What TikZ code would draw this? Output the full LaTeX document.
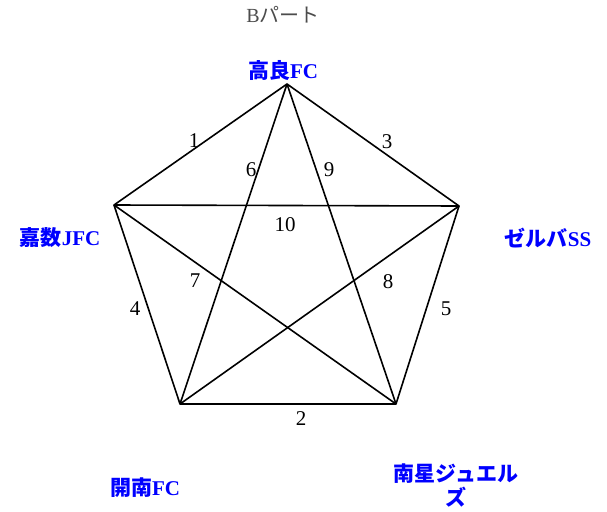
\documentclass[tikz,border=0pt]{standalone}
\usepackage{fontspec}
\setmainfont{Liberation Serif}
\newfontfamily\cjk{Noto Sans CJK JP}
\begin{document}
\begin{tikzpicture}[x=1pt,y=-1pt,
  edge/.style={draw=black,line width=1.6pt,line join=round},
  team/.style={text=blue,font=\fontsize{21}{23}\selectfont\bfseries,align=center,inner sep=0pt},
  num/.style={font=\fontsize{21}{23}\selectfont,inner sep=0pt},
  title/.style={text=black!70,font=\fontsize{20}{22}\selectfont,inner sep=0pt}]
\useasboundingbox (0,0) rectangle (607,511);
\coordinate (T) at (287,84);
\coordinate (L) at (114,205);
\coordinate (R) at (459,206);
\coordinate (BL) at (180,404);
\coordinate (BR) at (396,404);
\draw[edge] (T) -- (L) -- (BL) -- (BR) -- (R) -- cycle;
\draw[edge] (T) -- (BL);
\draw[edge] (T) -- (BR);
\draw[edge] (L) -- (R);
\draw[edge] (L) -- (BR);
\draw[edge] (R) -- (BL);
\node[title] (ttl) at (283,15) {B{\cjk\mdseries パート}};
\node[team] (nT) at (283,71) {{\cjk 高良}FC};
\node[team] (nL) at (60,238) {{\cjk 嘉数}JFC};
\node[team] (nR) at (548,238) {{\cjk ゼルバ}SS};
\node[team] (nBL) at (145,488) {{\cjk 開南}FC};
\node[team] (nBR) at (456,474) {\cjk 南星ジュエル};
\node[team] (nBR2) at (456,497) {\cjk ズ};
\node[num] (e1) at (194,141) {1};
\node[num] (e3) at (387,142) {3};
\node[num] (e6) at (251,170) {6};
\node[num] (e9) at (329,170) {9};
\node[num] (e10) at (285,225) {10};
\node[num] (e7) at (195,281) {7};
\node[num] (e8) at (388,282) {8};
\node[num] (e4) at (135,309) {4};
\node[num] (e5) at (446,309) {5};
\node[num] (e2) at (301,419) {2};
\end{tikzpicture}
\end{document}
